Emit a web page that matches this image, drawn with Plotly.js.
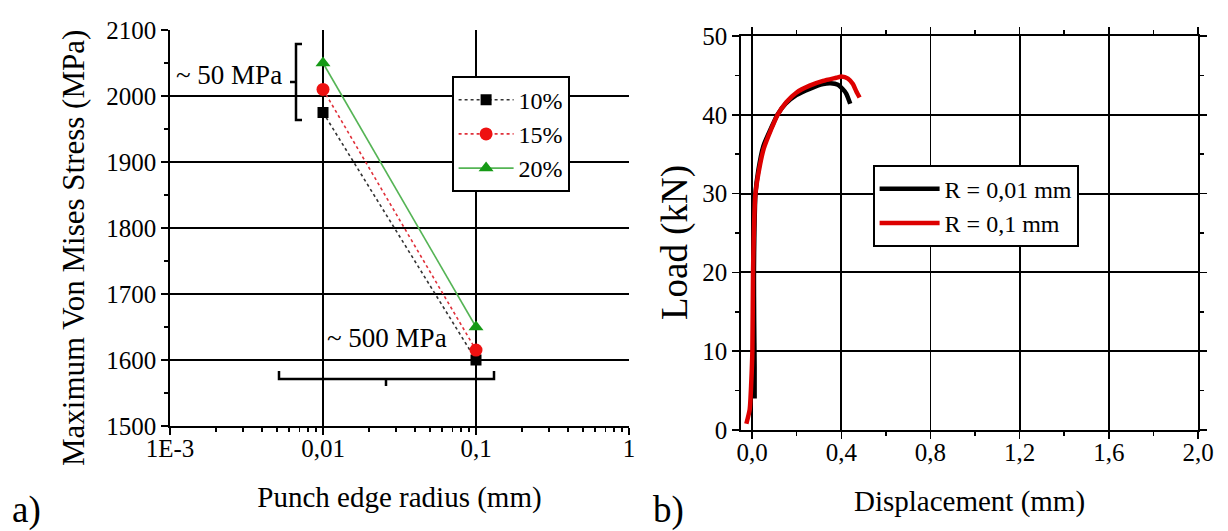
<!DOCTYPE html>
<html>
<head>
<meta charset="utf-8">
<script src="https://cdn.plot.ly/plotly-3.0.1.min.js"></script>
<style>html,body{margin:0;padding:0;background:#fff;}#chart{width:1228px;height:531px;}</style>
</head>
<body>
<div id="chart"></div>
<script>
// ---- Panel a) data ----
const radius = [0.01, 0.1];                 // punch edge radius (mm)
const stress10 = [1975, 1600];              // MPa, 10%
const stress15 = [2010, 1615];              // MPa, 15%
const stress20 = [2050, 1650];              // MPa, 20%
const seriesNames = ['10%', '15%', '20%'];
const radiusTickVals = [0.001, 0.01, 0.1, 1];
const radiusTickText = ['1E-3', '0,01', '0,1', '1'];

// ---- Panel b) data ----
const dispR001 = [0.011, 0.011, 0.009, 0.008, 0.010, 0.015, 0.028, 0.050, 0.085, 0.113, 0.150, 0.198, 0.258, 0.318, 0.352, 0.385, 0.405, 0.422, 0.440];
const loadR001 = [4.0, 8.0, 14.0, 20.0, 25.0, 30.0, 33.0, 36.0, 38.3, 40.0, 41.4, 42.5, 43.3, 43.9, 44.0, 43.8, 43.3, 42.7, 41.4];
const dispR01 = [-0.026, -0.011, -0.004, 0.001, 0.004, 0.007, 0.014, 0.029, 0.052, 0.086, 0.114, 0.153, 0.198, 0.258, 0.318, 0.378, 0.400, 0.430, 0.452, 0.467, 0.482];
const loadR01 = [0.8, 2.6, 6.0, 10.0, 20.0, 24.2, 29.8, 32.7, 35.7, 38.2, 40.0, 41.6, 42.8, 43.7, 44.3, 44.7, 44.85, 44.6, 43.9, 43.0, 42.2];
const curveNames = ['R = 0,01 mm', 'R = 0,1 mm'];

const W = 1228, H = 531;
const px = v => v / W;
const py = v => 1 - v / H;
const FONT = 'Liberation Serif';

const traces = [
  {x: radius, y: stress10, name: seriesNames[0], mode: 'lines+markers', xaxis: 'x', yaxis: 'y', legend: 'legend',
   line: {color: '#333333', dash: 'dot', width: 1.6}, marker: {symbol: 'square', size: 11, color: '#000000'}},
  {x: radius, y: stress15, name: seriesNames[1], mode: 'lines+markers', xaxis: 'x', yaxis: 'y', legend: 'legend',
   line: {color: '#e0303a', dash: 'dot', width: 1.6}, marker: {symbol: 'circle', size: 13, color: '#ee1111'}},
  {x: radius, y: stress20, name: seriesNames[2], mode: 'lines+markers', xaxis: 'x', yaxis: 'y', legend: 'legend',
   line: {color: '#55b455', width: 1.6}, marker: {symbol: 'triangle-up', size: 13, color: '#169a16'}},
  {x: dispR001, y: loadR001, name: curveNames[0], mode: 'lines', xaxis: 'x2', yaxis: 'y2', legend: 'legend2',
   line: {color: '#000000', width: 4.5, shape: 'spline', smoothing: 0.6}},
  {x: dispR01, y: loadR01, name: curveNames[1], mode: 'lines', xaxis: 'x2', yaxis: 'y2', legend: 'legend2',
   line: {color: '#dd0000', width: 4.5, shape: 'spline', smoothing: 0.6}}
];

const tickFont = () => ({family: FONT, size: 25, color: '#000'});
const axBase = () => ({showline: true, linecolor: '#000', linewidth: 1.7, gridcolor: '#000', gridwidth: 1.8,
  tickcolor: '#000', tickwidth: 1.5, zeroline: false, tickfont: tickFont(), showgrid: true, automargin: false});

const layout = {
  width: W, height: H, autosize: false,
  margin: {l: 0, r: 0, t: 0, b: 0, pad: 0},
  paper_bgcolor: '#fff', plot_bgcolor: '#fff',
  separators: ',.',
  showlegend: true,
  font: {family: FONT, color: '#000', size: 24},
  xaxis: Object.assign(axBase(), {
    domain: [px(170), px(629)], anchor: 'y', type: 'log', range: [-3, 0],
    tickmode: 'array', tickvals: radiusTickVals, ticktext: radiusTickText,
    ticks: 'outside', ticklen: 7, ticklabelstandoff: -8,
    minor: {dtick: 'D1', ticks: 'outside', ticklen: 4, tickcolor: '#000', showgrid: false},
    title: {text: 'Punch edge radius (mm)', font: {family: FONT, size: 29, color: '#000'}, standoff: 26}
  }),
  yaxis: Object.assign(axBase(), {
    domain: [py(426), py(30)], anchor: 'x', range: [1500, 2100], dtick: 100,
    ticks: 'outside', ticklen: 7,
    minor: {dtick: 50, ticks: 'outside', ticklen: 4, tickcolor: '#000', showgrid: false}
  }),
  xaxis3: {overlaying: 'x', anchor: 'y', side: 'top', type: 'log', range: [-3, 0], dtick: 1,
    ticks: 'inside', ticklen: 7, tickcolor: '#000', tickwidth: 1.5, showticklabels: false, showgrid: false, showline: false, zeroline: false,
    minor: {dtick: 'D1', ticks: 'inside', ticklen: 4, tickcolor: '#000', showgrid: false}},
  yaxis3: {overlaying: 'y', anchor: 'x', side: 'right', range: [1500, 2100], dtick: 100,
    ticks: 'inside', ticklen: 7, tickcolor: '#000', tickwidth: 1.5, showticklabels: false, showgrid: false, showline: false, zeroline: false,
    minor: {dtick: 50, ticks: 'inside', ticklen: 4, tickcolor: '#000', showgrid: false}},
  xaxis2: Object.assign(axBase(), {
    domain: [px(741), px(1198)], anchor: 'y2', range: [-0.05, 2.0], tick0: 0, dtick: 0.4, tickformat: '.1f',
    ticks: 'outside', ticklen: 7, mirror: 'ticks', ticklabelstandoff: -8,
    minor: {dtick: 0.2, ticks: 'outside', ticklen: 4, tickcolor: '#000', showgrid: false},
    title: {text: 'Displacement (mm)', font: {family: FONT, size: 29, color: '#000'}, standoff: 26}
  }),
  yaxis2: Object.assign(axBase(), {
    domain: [py(430), py(36)], anchor: 'x2', range: [0, 50], dtick: 10,
    ticks: 'outside', ticklen: 7, mirror: 'ticks',
    minor: {dtick: 5, ticks: 'outside', ticklen: 4, tickcolor: '#000', showgrid: false}
  }),
  legend: {x: px(452), y: py(76), xanchor: 'left', yanchor: 'top', bgcolor: '#fff', bordercolor: '#000', borderwidth: 1.6,
    font: {family: FONT, size: 24, color: '#000'}, itemwidth: 55, traceorder: 'normal'},
  legend2: {x: px(873), y: py(165), xanchor: 'left', yanchor: 'top', bgcolor: '#fff', bordercolor: '#000', borderwidth: 1.6,
    font: {family: FONT, size: 24, color: '#000'}, itemwidth: 60},
  annotations: [
    {xref: 'paper', yref: 'paper', x: px(73), y: py(248), xanchor: 'center', yanchor: 'middle', textangle: -90,
     text: 'Maximum Von Mises Stress (MPa)', showarrow: false, font: {family: FONT, size: 31, color: '#000'}},
    {xref: 'paper', yref: 'paper', x: px(675), y: py(243), xanchor: 'center', yanchor: 'middle', textangle: -90,
     text: 'Load (kN)', showarrow: false, font: {family: FONT, size: 37, color: '#000'}},
    {xref: 'paper', yref: 'paper', x: px(229), y: py(75), xanchor: 'center', yanchor: 'middle', text: '~ 50 MPa', showarrow: false, font: {family: FONT, size: 27, color: '#000'}},
    {xref: 'paper', yref: 'paper', x: px(387), y: py(338), xanchor: 'center', yanchor: 'middle', text: '~ 500 MPa', showarrow: false, font: {family: FONT, size: 27, color: '#000'}},
    {xref: 'paper', yref: 'paper', x: px(26), y: py(510), xanchor: 'center', yanchor: 'middle', text: 'a)', showarrow: false, font: {family: FONT, size: 37, color: '#000'}},
    {xref: 'paper', yref: 'paper', x: px(668), y: py(510), xanchor: 'center', yanchor: 'middle', text: 'b)', showarrow: false, font: {family: FONT, size: 37, color: '#000'}}
  ],
  shapes: [
    {type: 'path', xref: 'paper', yref: 'paper', line: {color: '#000', width: 2.5},
     path: `M${px(302)},${py(44)} L${px(296)},${py(44)} L${px(296)},${py(120)} L${px(302)},${py(120)} M${px(296)},${py(82)} L${px(290)},${py(82)}`},
    {type: 'path', xref: 'paper', yref: 'paper', line: {color: '#000', width: 2.5},
     path: `M${px(279)},${py(371)} L${px(279)},${py(379)} L${px(494)},${py(379)} L${px(494)},${py(371)} M${px(386)},${py(379)} L${px(386)},${py(386)}`}
  ]
};

Plotly.newPlot('chart', traces, layout, {displayModeBar: false, staticPlot: true});
</script>
</body>
</html>
